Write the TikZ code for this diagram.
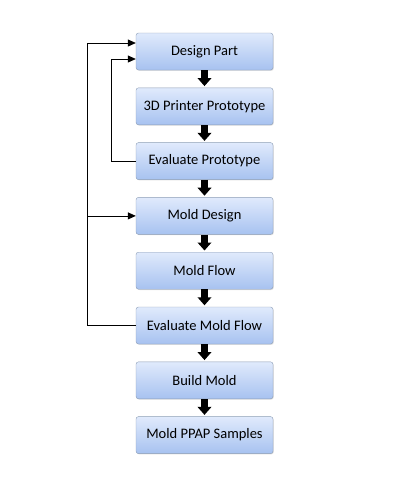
\documentclass[tikz,border=0pt]{standalone}
\usepackage{fontspec}
\setmainfont{Carlito}
\usetikzlibrary{arrows.meta, shadows}
\definecolor{boxtop}{HTML}{E0EAFC}
\definecolor{boxbottom}{HTML}{A7C2F0}
\definecolor{boxline}{HTML}{8C9DB5}
\tikzstyle{process} = [rectangle, rounded corners=2.5pt, minimum width=137pt, minimum height=37pt,
text centered, draw=boxline, top color=boxtop, bottom color=boxbottom, font=\fontsize{14.5}{16}\selectfont,
drop shadow={opacity=0.25, shadow xshift=0.8pt, shadow yshift=-0.8pt}]
\tikzstyle{blockarrow} = [line width=6.5pt, -{Triangle[width=13.5pt, length=8pt]}, shorten >=1.5pt]
\tikzstyle{arrow} = [line width=0.8pt, -{Triangle[width=7pt, length=8pt]}]

\begin{document}
\begin{tikzpicture}[node distance = 54.8pt]
\useasboundingbox (0,0) rectangle (403pt,-485pt);

% ------------------------- nodes -------------------------
% ----- node: 0
\node(0)[process] at (204.5pt,-51.5pt) {Design Part};
% ----- node: 1
\node(1)[process, below of=0]{3D Printer Prototype};
% ----- node: 2
\node(2)[process, below of=1]{Evaluate Prototype};
% ----- node: 3
\node(3)[process, below of=2]{Mold Design};
% ----- node: 4
\node(4)[process, below of=3]{Mold Flow};
% ----- node: 5
\node(5)[process, below of=4]{Evaluate Mold Flow};
% ----- node: 6
\node(6)[process, below of=5]{Build Mold};
% ----- node: 7
\node(7)[process, below of=6]{Mold PPAP Samples};
\coordinate(back5) at ([xshift=-48pt]5.west);

% ------------------------- connections -------------------------
\draw[blockarrow](0)--(1);
\draw[blockarrow](1)--(2);
\draw[blockarrow](2)--(3);
\draw[blockarrow](3)--(4);
\draw[blockarrow](4)--(5);
\draw[blockarrow](5)--(6);
\draw[blockarrow](6)--(7);
% feedback loops
\draw[arrow](2.west)--++(-24pt,0)|-([yshift=-7.5pt]0.west);
\draw[arrow](5.west)--(back5)|-([yshift=8.5pt]0.west);
\draw[arrow](back5|-3.west)--(3.west);
\end{tikzpicture}
\end{document}
